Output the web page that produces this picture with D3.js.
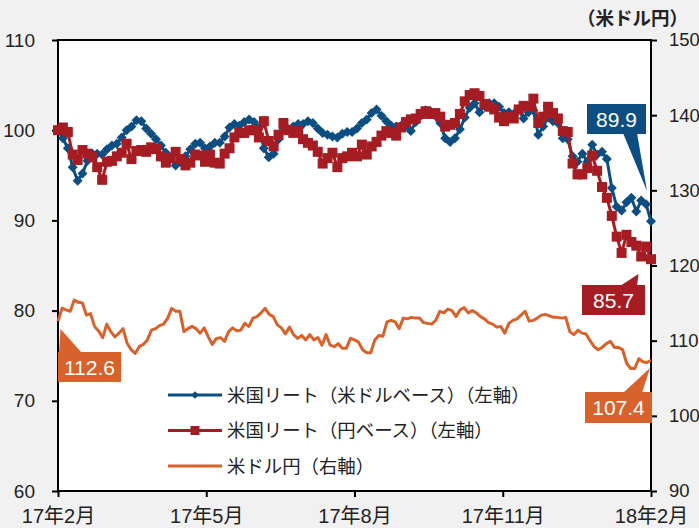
<!DOCTYPE html>
<html>
<head>
<meta charset="utf-8">
<script src="https://cdn.jsdelivr.net/npm/d3@7"></script>
<style>
  body { margin: 0; background: #f1f1f1; }
  svg { display: block; }
</style>
</head>
<body>
<div id="chart"></div>
<script>
// x axis: months from 17年2月 (0) to 18年2月 (12)
const xTickMonths = [0, 3, 6, 9, 12];
const xTickLabels = ["17年2月", "17年5月", "17年8月", "17年11月", "18年2月"];
const leftTicks = [60, 70, 80, 90, 100, 110];
const rightTicks = [90, 100, 110, 120, 130, 140, 150];

// 米国リート（米ドルベース）, left axis
const reitUsd = [
  100.0, 99.1, 98.0, 95.9, 94.4, 95.2, 96.6, 97.4, 97.4, 97.3,
  97.9, 98.3, 98.5, 99.2, 100.0, 100.4, 101.1, 101.0, 100.2, 99.6,
  99.0, 98.3, 97.5, 96.8, 96.1, 96.5, 97.1, 97.9, 98.5, 98.6,
  98.0, 98.2, 98.6, 98.6, 99.3, 100.3, 100.7, 100.5, 100.9, 101.2,
  100.9, 100.3, 98.0, 97.0, 97.4, 99.0, 100.2, 100.1, 100.4, 100.7,
  100.7, 101.0, 100.8, 100.2, 99.7, 99.5, 99.3, 99.2, 99.6, 99.8,
  99.8, 100.2, 100.8, 101.2, 101.9, 102.3, 101.6, 101.0, 100.5, 100.4,
  100.5, 100.5, 99.9, 100.9, 101.6, 102.2, 102.1, 101.6, 100.8, 99.1,
  98.7, 99.1, 100.1, 101.4, 102.5, 103.0, 102.0, 102.7, 103.0, 103.0,
  102.6, 101.9, 102.0, 101.8, 102.3, 101.3, 102.0, 102.2, 99.5, 100.4,
  101.4, 101.0, 100.8, 99.1, 99.0, 97.1, 96.5, 97.4, 96.5, 98.4,
  97.3, 97.6, 96.8, 93.6, 91.5, 91.1, 92.0, 92.5, 91.0, 92.2,
  91.8, 89.9
];

// 米国リート（円ベース）, left axis
const reitJpy = [
  100.0, 100.3, 99.8, 97.3, 96.7, 97.8, 97.4, 97.0, 95.9, 94.5,
  96.5, 96.6, 97.1, 97.5, 98.5, 96.8, 97.7, 97.8, 97.6, 98.1,
  97.9, 97.1, 96.4, 96.9, 97.6, 96.8, 96.1, 96.4, 97.3, 97.2,
  96.5, 97.3, 96.4, 96.3, 97.4, 98.0, 99.2, 99.7, 99.7, 100.0,
  100.0, 99.2, 101.0, 98.8, 98.2, 99.5, 100.8, 100.0, 99.7, 99.9,
  99.0, 98.6, 98.3, 97.6, 96.3, 96.9, 97.5, 95.9, 96.9, 97.1,
  97.5, 97.1, 98.4, 97.3, 98.2, 98.7, 99.4, 99.9, 99.7, 99.4,
  100.3, 100.9, 101.2, 101.3, 101.8, 102.1, 101.8, 101.9, 101.5, 100.4,
  100.6, 100.8, 101.8, 103.2, 103.9, 104.1, 103.8, 102.9, 102.6, 102.3,
  101.4, 101.0, 101.5, 101.3, 102.3, 102.7, 102.6, 103.5, 100.8, 101.5,
  102.6, 101.9, 101.3, 99.9, 99.8, 96.3, 95.1, 95.1, 95.8, 97.2,
  95.5, 93.7, 92.5, 90.5, 88.2, 86.4, 88.4, 87.6, 87.2, 86.0,
  87.1, 85.7
];

// 米ドル円, right axis
const usdJpy = [
  112.6, 114.3, 114.1, 113.9, 115.4, 115.1, 115.0, 113.4, 113.6, 111.9,
  111.3, 110.4, 112.2, 111.2, 110.5, 111.0, 111.6, 109.7, 108.8, 108.3,
  109.2, 109.5, 110.1, 111.4, 111.6, 112.0, 112.2, 113.0, 114.3, 113.9,
  113.9, 111.2, 111.6, 111.9, 111.6, 111.0, 111.7, 110.5, 109.5, 110.3,
  110.4, 109.9, 111.2, 111.7, 111.3, 111.4, 112.3, 111.9, 113.0, 113.2,
  113.7, 114.3, 113.5, 113.2, 112.1, 111.7, 110.9, 111.8, 110.8, 110.3,
  110.7, 110.1, 110.8, 110.1, 110.4, 109.4, 110.8, 109.4, 109.2, 109.6,
  109.0, 109.0, 110.3, 110.1, 109.8, 108.8, 108.4, 108.4, 110.1, 110.7,
  110.6, 112.5, 112.7, 112.5, 111.6, 113.0, 112.9, 113.1, 113.0, 113.0,
  112.4, 112.3, 112.2, 112.7, 113.9, 113.7, 114.2, 114.0, 113.2, 114.1,
  114.4, 113.7, 114.0, 113.7, 113.2, 112.9, 112.4, 112.2, 111.8, 111.9,
  111.0, 112.3, 112.7, 112.9, 113.4, 113.9, 112.6, 112.7, 113.0, 113.4,
  113.5, 113.3, 113.1, 113.1, 113.0, 113.1, 111.2, 110.8, 111.4, 111.0,
  110.9, 110.0, 109.2, 108.8, 109.1, 109.6, 109.9, 109.1, 109.1, 108.8,
  107.0, 106.3, 106.3, 107.6, 107.2, 107.1, 107.4
];

const seriesNames = ["米国リート（米ドルベース）（左軸）", "米国リート（円ベース）（左軸）", "米ドル円（右軸）"];
const blue = "#0c4e81", red = "#a51c22", orange = "#d7622b";

const width = 699, height = 528;
const margin = { top: 40, right: 48, bottom: 37, left: 58 };

const svg = d3.select("#chart").append("svg")
  .attr("width", width).attr("height", height)
  .style("background", "#f1f1f1");

const x = d3.scaleLinear().domain([0, 12]).range([margin.left, width - margin.right]);
const yL = d3.scaleLinear().domain([60, 110]).range([height - margin.bottom, margin.top]);
const yR = d3.scaleLinear().domain([90, 150]).range([height - margin.bottom, margin.top]);

const toMonth = n => i => i * 12 / (n - 1);
const mUsd = toMonth(reitUsd.length), mJpy = toMonth(reitJpy.length), mFx = toMonth(usdJpy.length);

// plot area
svg.append("rect")
  .attr("x", margin.left).attr("y", margin.top)
  .attr("width", x(12) - x(0)).attr("height", yL(60) - yL(110))
  .attr("fill", "#fff");

const numFont = "'Liberation Sans Narrow', 'Liberation Sans', Arial, sans-serif";
const jpFont = "'Noto Sans CJK JP', sans-serif";

// axes
const axL = svg.append("g").attr("transform", `translate(${margin.left},0)`)
  .call(d3.axisLeft(yL).tickValues(leftTicks).tickSize(6).tickPadding(17));
const axR = svg.append("g").attr("transform", `translate(${width - margin.right},0)`)
  .call(d3.axisRight(yR).tickValues(rightTicks).tickSize(6).tickPadding(12));
const axB = svg.append("g").attr("transform", `translate(0,${height - margin.bottom})`)
  .call(d3.axisBottom(x).tickValues(xTickMonths).tickSize(6).tickPadding(12)
    .tickFormat((d, i) => xTickLabels[i]));

[axL, axR, axB].forEach(g => {
  g.select(".domain").remove();
  g.selectAll(".tick line").attr("stroke", "#000").attr("stroke-width", 2);
  g.selectAll("text").attr("fill", "#222").style("font-size", "19px").style("font-family", numFont);
});
axR.selectAll("text").style("font-size", "18.5px");
axB.selectAll("text").style("font-family", numFont + ", " + jpFont).style("font-size", "20px");

// frame
svg.append("rect")
  .attr("x", margin.left).attr("y", margin.top)
  .attr("width", x(12) - x(0)).attr("height", yL(60) - yL(110))
  .attr("fill", "none").attr("stroke", "#000").attr("stroke-width", 2);

// unit label
svg.append("text")
  .attr("x", 688).attr("y", 25).attr("text-anchor", "end")
  .style("font-family", jpFont).style("font-size", "18.5px").style("font-weight", "bold")
  .attr("fill", "#222").text("（米ドル円）");

// USD/JPY line
svg.append("path")
  .datum(usdJpy)
  .attr("fill", "none").attr("stroke", orange).attr("stroke-width", 3)
  .attr("stroke-linejoin", "round")
  .attr("d", d3.line().x((d, i) => x(mFx(i))).y(d => yR(d)));

// REIT USD base, diamonds
svg.append("path")
  .datum(reitUsd)
  .attr("fill", "none").attr("stroke", blue).attr("stroke-width", 3)
  .attr("d", d3.line().x((d, i) => x(mUsd(i))).y(d => yL(d)));
const diamond = d3.symbol().type(d3.symbolSquare).size(50)();
svg.append("g").selectAll("path")
  .data(reitUsd).join("path")
  .attr("d", diamond)
  .attr("transform", (d, i) => `translate(${x(mUsd(i))},${yL(d)}) rotate(45)`)
  .attr("fill", blue);

// REIT JPY base, squares
svg.append("path")
  .datum(reitJpy)
  .attr("fill", "none").attr("stroke", red).attr("stroke-width", 3)
  .attr("d", d3.line().x((d, i) => x(mJpy(i))).y(d => yL(d)));
svg.append("g").selectAll("rect")
  .data(reitJpy).join("rect")
  .attr("x", (d, i) => x(mJpy(i)) - 5)
  .attr("y", d => yL(d) - 5)
  .attr("width", 10).attr("height", 10)
  .attr("fill", red);

// callouts
function callout(box, tri, color, label) {
  const g = svg.append("g");
  g.append("path").attr("d", "M" + tri.map(p => p.join(",")).join("L") + "Z").attr("fill", color);
  g.append("rect").attr("x", box[0]).attr("y", box[1]).attr("width", box[2]).attr("height", box[3]).attr("fill", color);
  g.append("text")
    .attr("x", box[0] + box[2] / 2).attr("y", box[1] + box[3] / 2 + 7.5)
    .attr("text-anchor", "middle").attr("fill", "#fff")
    .style("font-family", "'Liberation Sans', Arial, sans-serif").style("font-size", "21px")
    .text(label);
}
callout([587, 104, 59, 30], [[623, 133], [637, 133], [647, 191]], blue, reitUsd[reitUsd.length - 1].toFixed(1));
callout([582, 285, 63, 30], [[620, 286], [637, 286], [638.5, 274]], red, reitJpy[reitJpy.length - 1].toFixed(1));
callout([58, 352, 63, 30], [[59, 353], [82, 353], [60.5, 329]], orange, usdJpy[0].toFixed(1));
callout([585, 392, 67, 31], [[623, 393], [642, 393], [650, 368]], orange, usdJpy[usdJpy.length - 1].toFixed(1));

// legend
const legend = svg.append("g");
const legendColors = [blue, red, orange];
seriesNames.forEach((name, i) => {
  const ly = 395 + i * 35.5;
  const row = legend.append("g");
  row.append("line").attr("x1", 168).attr("x2", 222).attr("y1", ly).attr("y2", ly)
    .attr("stroke", legendColors[i]).attr("stroke-width", 3);
  if (i === 0) {
    row.append("path").attr("d", d3.symbol().type(d3.symbolSquare).size(30)())
      .attr("transform", `translate(195,${ly}) rotate(45)`).attr("fill", blue);
  } else if (i === 1) {
    row.append("rect").attr("x", 190.5).attr("y", ly - 4.5).attr("width", 9).attr("height", 9).attr("fill", red);
  }
  row.append("text").attr("x", 227).attr("y", ly + 6.5)
    .style("font-family", jpFont).style("font-size", "18.4px").attr("fill", "#222")
    .text(name);
});
</script>
</body>
</html>
